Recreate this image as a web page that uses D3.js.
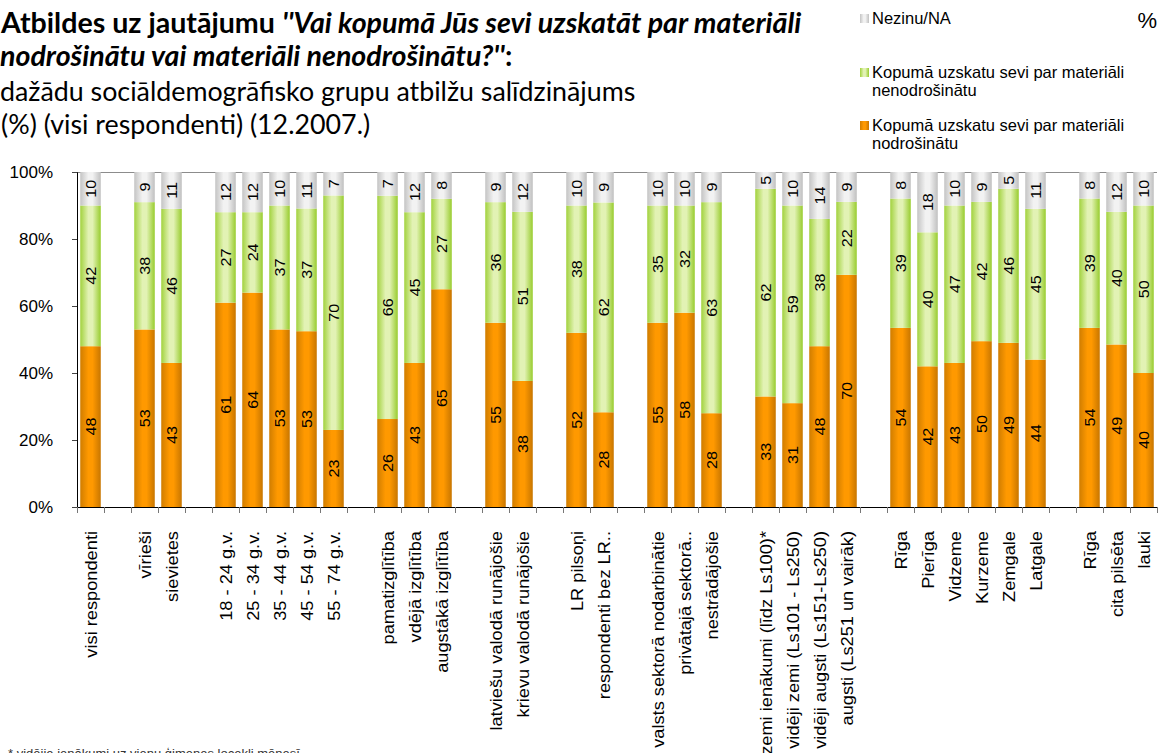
<!DOCTYPE html>
<html>
<head>
<meta charset="utf-8">
<script src="https://cdn.jsdelivr.net/npm/d3@7"></script>
<style>
  body { margin: 0; background: #fff; }
  svg { display: block; }
</style>
</head>
<body>
<svg id="chart" width="1161" height="753"></svg>
<script>
// categories, "" = empty slot between groups
var categories = [
  'visi respondenti', '',
  'vīrieši', 'sievietes', '',
  '18 - 24 g.v.', '25 - 34 g.v.', '35 - 44 g.v.', '45 - 54 g.v.', '55 - 74 g.v.', '',
  'pamatizglītība', 'vdējā izglītība', 'augstākā izglītība', '',
  'latviešu valodā runājošie', 'krievu valodā runājošie', '',
  'LR pilsoņi', 'respondenti bez LR..', '',
  'valsts sektorā nodarbinātie', 'privātajā sektorā..', 'nestrādājošie', '',
  'zemi ienākumi (līdz Ls100)*', 'vidēji zemi (Ls101 - Ls250)', 'vidēji augsti (Ls151-Ls250)', 'augsti (Ls251 un vairāk)', '',
  'Rīga', 'Pierīga', 'Vidzeme', 'Kurzeme', 'Zemgale', 'Latgale', '',
  'Rīga', 'cita pilsēta', 'lauki'
];
var nodrosinatu = [48, null, 53, 43, null, 61, 64, 53, 53, 23, null, 26, 43, 65, null, 55, 38, null, 52, 28, null, 55, 58, 28, null, 33, 31, 48, 70, null, 54, 42, 43, 50, 49, 44, null, 54, 49, 40];
var nenodrosinatu = [42, null, 38, 46, null, 27, 24, 37, 37, 70, null, 66, 45, 27, null, 36, 51, null, 38, 62, null, 35, 32, 63, null, 62, 59, 38, 22, null, 39, 40, 47, 42, 46, 45, null, 39, 40, 50];
var nezinu = [10, null, 9, 11, null, 12, 12, 10, 11, 7, null, 7, 12, 8, null, 9, 12, null, 10, 9, null, 10, 10, 9, null, 5, 10, 14, 9, null, 8, 18, 10, 9, 5, 11, null, 8, 12, 10];
var yTicks = [0, 0.2, 0.4, 0.6, 0.8, 1];

var seriesKeys = ['nodrosinatu', 'nenodrosinatu', 'nezinu'];
var legendLabels = {
  nezinu: ['Nezinu/NA'],
  nenodrosinatu: ['Kopumā uzskatu sevi par materiāli', 'nenodrošinātu'],
  nodrosinatu: ['Kopumā uzskatu sevi par materiāli', 'nodrošinātu']
};
// [edge, light, edge]
var colors = {
  nodrosinatu: ['#d07d00', '#ff9900', '#c87600'],
  nenodrosinatu: ['#a2d23e', '#e2f2b4', '#98cc2e'],
  nezinu: ['#c4c4c4', '#f2f2f2', '#c0c0c0']
};

var rows = categories.map(function(c, i) {
  return { idx: i, name: c, nodrosinatu: nodrosinatu[i] || 0, nenodrosinatu: nenodrosinatu[i] || 0, nezinu: nezinu[i] || 0, empty: c === '' };
});

var svg = d3.select('#chart');
var margin = { top: 172, left: 77, right: 4, bottom: 246 };
var W = 1161, H = 753;

var x = d3.scaleBand()
  .domain(rows.map(function(d) { return d.idx; }))
  .range([margin.left, W - margin.right])
  .paddingInner(0.24)
  .paddingOuter(0.12);

var y = d3.scaleLinear().domain([0, 1]).range([H - margin.bottom, margin.top]);

var stack = d3.stack().keys(seriesKeys).offset(d3.stackOffsetExpand);
var stacked = stack(rows);

// gradients for the bar shading
var defs = svg.append('defs');
seriesKeys.forEach(function(k) {
  var g = defs.append('linearGradient').attr('id', 'grad-' + k)
    .attr('x1', '0%').attr('x2', '100%').attr('y1', '0%').attr('y2', '0%');
  g.append('stop').attr('offset', '0%').attr('stop-color', colors[k][0]);
  g.append('stop').attr('offset', '40%').attr('stop-color', colors[k][1]);
  g.append('stop').attr('offset', '60%').attr('stop-color', colors[k][1]);
  g.append('stop').attr('offset', '100%').attr('stop-color', colors[k][2]);
});

// top border of plot area
svg.append('line')
  .attr('x1', margin.left).attr('x2', W - margin.right)
  .attr('y1', y(1) + 0.5).attr('y2', y(1) + 0.5)
  .attr('stroke', '#8c8c8c').attr('stroke-width', 1);

// bars
var layers = svg.selectAll('.layer')
  .data(stacked)
  .enter().append('g')
  .attr('class', 'layer')
  .attr('fill', function(d) { return 'url(#grad-' + d.key + ')'; });

layers.selectAll('rect')
  .data(function(d) { return d.filter(function(s) { return !s.data.empty; }); })
  .enter().append('rect')
  .attr('x', function(d) { return x(d.data.idx); })
  .attr('width', x.bandwidth())
  .attr('y', function(d) { return y(d[1]); })
  .attr('height', function(d) { return y(d[0]) - y(d[1]); });

// value labels
stacked.forEach(function(layer) {
  svg.append('g').selectAll('text')
    .data(layer.filter(function(s) { return !s.data.empty; }))
    .enter().append('text')
    .attr('transform', function(d) {
      var cx = x(d.data.idx) + x.bandwidth() / 2;
      var cy = y((d[0] + d[1]) / 2);
      return 'translate(' + cx + ',' + cy + ') rotate(-90) scale(1.15,1)';
    })
    .attr('dy', '0.36em')
    .attr('text-anchor', 'middle')
    .style('font-family', 'Liberation Sans, Arial, sans-serif')
    .style('font-size', '14px')
    .attr('fill', '#000')
    .text(function(d) { return d.data[layer.key]; });
});

// y axis
var yAxis = svg.append('g')
  .attr('transform', 'translate(' + margin.left + ',0)')
  .call(d3.axisLeft(y).tickValues(yTicks).tickFormat(d3.format('.0%')).tickSize(5).tickPadding(19));
yAxis.select('.domain').attr('stroke', '#000');
yAxis.selectAll('.tick line').attr('stroke', '#444');
yAxis.selectAll('text')
  .style('font-family', 'Liberation Sans, Arial, sans-serif')
  .style('font-size', '17px')
  .attr('fill', '#000');

// x axis line and ticks between categories
svg.append('line')
  .attr('x1', margin.left).attr('x2', W - margin.right)
  .attr('y1', y(0) + 0.5).attr('y2', y(0) + 0.5)
  .attr('stroke', '#000').attr('stroke-width', 1.2);

var bounds = d3.range(categories.length + 1).map(function(i) { return margin.left + i * x.step(); });
svg.append('g').selectAll('line')
  .data(bounds)
  .enter().append('line')
  .attr('x1', function(d) { return Math.round(d) + 0.5; })
  .attr('x2', function(d) { return Math.round(d) + 0.5; })
  .attr('y1', y(0)).attr('y2', y(0) + 6)
  .attr('stroke', '#777');

// category labels
svg.append('g').selectAll('text')
  .data(rows.filter(function(d) { return !d.empty; }))
  .enter().append('text')
  .attr('transform', function(d) {
    return 'translate(' + (x(d.idx) + x.bandwidth() / 2 + 1) + ',' + (y(0) + 24) + ') rotate(-90) scale(1.14,1)';
  })
  .attr('dy', '0.36em')
  .attr('text-anchor', 'end')
  .style('font-family', 'Liberation Sans, Arial, sans-serif')
  .style('font-size', '16px')
  .attr('fill', '#000')
  .text(function(d) { return d.name; });

// title
var title = svg.append('text')
  .style('font-family', 'Lato, sans-serif')
  .attr('fill', '#000');
var l1 = title.append('tspan').attr('x', 1).attr('y', 33).style('font-weight', 'bold').style('font-size', '28.6px');
l1.append('tspan').text('Atbildes uz jautājumu ');
l1.append('tspan').style('font-style', 'italic').text("''Vai kopumā Jūs sevi uzskatāt par materiāli");
var l2 = title.append('tspan').attr('x', 0).attr('y', 66).style('font-weight', 'bold').style('font-size', '28.6px');
l2.append('tspan').style('font-style', 'italic').text("nodrošinātu vai materiāli nenodrošinātu?''");
l2.append('tspan').text(':');
title.append('tspan').attr('x', 0).attr('y', 101).style('font-size', '26.8px').text('dažādu sociāldemogrāfisko grupu atbilžu salīdzinājums');
title.append('tspan').attr('x', 1).attr('y', 134).style('font-size', '26.8px').text('(%) (visi respondenti) (12.2007.)');

// legend
var legendItems = [
  { key: 'nezinu', y: 14 },
  { key: 'nenodrosinatu', y: 68 },
  { key: 'nodrosinatu', y: 121 }
];
var legend = svg.append('g');
legendItems.forEach(function(it) {
  legend.append('rect')
    .attr('x', 860).attr('y', it.y).attr('width', 9).attr('height', 9)
    .attr('fill', 'url(#grad-' + it.key + ')');
  legendLabels[it.key].forEach(function(line, j) {
    legend.append('text')
      .attr('x', 872).attr('y', it.y + 10 + j * 18)
      .style('font-family', 'Liberation Sans, Arial, sans-serif')
      .style('font-size', '16.5px')
      .attr('fill', '#000')
      .text(line);
  });
});

svg.append('text')
  .attr('x', 1157).attr('y', 28)
  .attr('text-anchor', 'end')
  .style('font-family', 'Liberation Sans, Arial, sans-serif')
  .style('font-size', '22px')
  .text('%');

// footnote (cut by the bottom edge)
svg.append('text')
  .attr('x', 8).attr('y', 758)
  .style('font-family', 'Liberation Sans, Arial, sans-serif')
  .style('font-size', '13px')
  .attr('fill', '#333')
  .text('* vidējie ienākumi uz vienu ģimenes locekli mēnesī');
</script>
</body>
</html>
